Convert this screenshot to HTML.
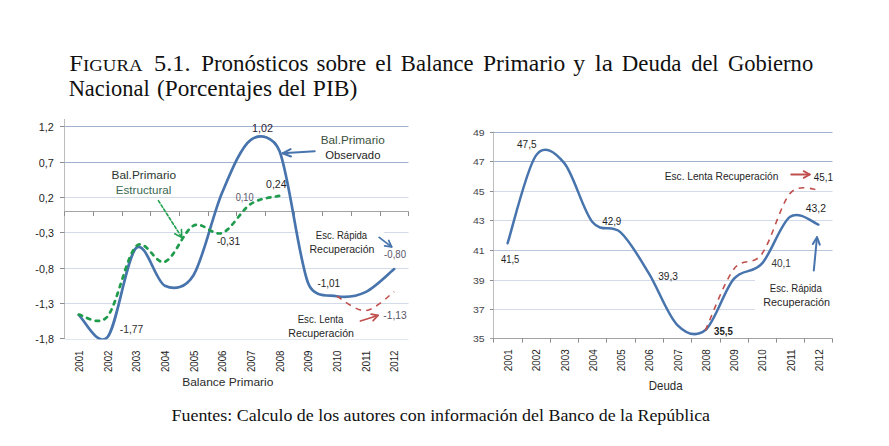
<!DOCTYPE html>
<html><head><meta charset="utf-8"><title>Figura 5.1</title>
<style>
html,body{margin:0;padding:0;background:#fff;}
body{width:889px;height:446px;overflow:hidden;}
svg{display:block;font-family:'Liberation Sans', Arial, sans-serif;}
</style></head><body>
<svg width="889" height="446" viewBox="0 0 889 446">
<rect width="889" height="446" fill="#fff"/>
<text x="69.38" y="70.90" font-size="23.00" fill="#111" textLength="73.06" lengthAdjust="spacingAndGlyphs" font-family="'Liberation Serif', 'Times New Roman', serif">F<tspan font-size="17.5">IGURA</tspan></text>
<text x="154.12" y="70.90" font-size="23.00" fill="#111" textLength="36.48" lengthAdjust="spacingAndGlyphs" font-family="'Liberation Serif', 'Times New Roman', serif">5.1.</text>
<text x="201.20" y="70.90" font-size="23.00" fill="#111" textLength="107.14" lengthAdjust="spacingAndGlyphs" font-family="'Liberation Serif', 'Times New Roman', serif">Pronósticos</text>
<text x="316.48" y="70.90" font-size="23.00" fill="#111" textLength="49.60" lengthAdjust="spacingAndGlyphs" font-family="'Liberation Serif', 'Times New Roman', serif">sobre</text>
<text x="375.38" y="70.90" font-size="23.00" fill="#111" textLength="16.78" lengthAdjust="spacingAndGlyphs" font-family="'Liberation Serif', 'Times New Roman', serif">el</text>
<text x="400.84" y="70.90" font-size="23.00" fill="#111" textLength="72.78" lengthAdjust="spacingAndGlyphs" font-family="'Liberation Serif', 'Times New Roman', serif">Balance</text>
<text x="483.02" y="70.90" font-size="23.00" fill="#111" textLength="82.32" lengthAdjust="spacingAndGlyphs" font-family="'Liberation Serif', 'Times New Roman', serif">Primario</text>
<text x="573.38" y="70.90" font-size="23.00" fill="#111" textLength="11.88" lengthAdjust="spacingAndGlyphs" font-family="'Liberation Serif', 'Times New Roman', serif">y</text>
<text x="594.66" y="70.90" font-size="23.00" fill="#111" textLength="18.24" lengthAdjust="spacingAndGlyphs" font-family="'Liberation Serif', 'Times New Roman', serif">la</text>
<text x="621.84" y="70.90" font-size="23.00" fill="#111" textLength="59.70" lengthAdjust="spacingAndGlyphs" font-family="'Liberation Serif', 'Times New Roman', serif">Deuda</text>
<text x="691.20" y="70.90" font-size="23.00" fill="#111" textLength="27.42" lengthAdjust="spacingAndGlyphs" font-family="'Liberation Serif', 'Times New Roman', serif">del</text>
<text x="728.02" y="70.90" font-size="23.00" fill="#111" textLength="85.14" lengthAdjust="spacingAndGlyphs" font-family="'Liberation Serif', 'Times New Roman', serif">Gobierno</text>
<text x="68.66" y="96.00" font-size="23.00" fill="#111" textLength="80.96" lengthAdjust="spacingAndGlyphs" font-family="'Liberation Serif', 'Times New Roman', serif">Nacional</text>
<text x="156.94" y="96.00" font-size="23.00" fill="#111" textLength="115.04" lengthAdjust="spacingAndGlyphs" font-family="'Liberation Serif', 'Times New Roman', serif">(Porcentajes</text>
<text x="278.30" y="96.00" font-size="23.00" fill="#111" textLength="27.68" lengthAdjust="spacingAndGlyphs" font-family="'Liberation Serif', 'Times New Roman', serif">del</text>
<text x="312.84" y="96.00" font-size="23.00" fill="#111" textLength="44.50" lengthAdjust="spacingAndGlyphs" font-family="'Liberation Serif', 'Times New Roman', serif">PIB)</text>
<text x="171.56" y="420.80" font-size="16.00" fill="#111" textLength="538.52" lengthAdjust="spacingAndGlyphs" font-family="'Liberation Serif', 'Times New Roman', serif">Fuentes: Calculo de los autores con información del Banco de la República</text>
<line x1="64.50" y1="126.50" x2="408.50" y2="126.50" stroke="#9fb1cf" stroke-width="1.00" />
<line x1="64.50" y1="162.50" x2="408.50" y2="162.50" stroke="#9fb1cf" stroke-width="1.00" />
<line x1="64.50" y1="197.50" x2="408.50" y2="197.50" stroke="#d3dbe8" stroke-width="1.00" />
<line x1="64.50" y1="232.50" x2="408.50" y2="232.50" stroke="#d3dbe8" stroke-width="1.00" />
<line x1="64.50" y1="268.50" x2="408.50" y2="268.50" stroke="#d3dbe8" stroke-width="1.00" />
<line x1="64.50" y1="303.50" x2="408.50" y2="303.50" stroke="#d3dbe8" stroke-width="1.00" />
<line x1="64.50" y1="339.50" x2="408.50" y2="339.50" stroke="#e3e8f0" stroke-width="1.00" />
<rect x="300.5" y="226" width="83.5" height="33" fill="#fff"/>
<line x1="64.50" y1="119.00" x2="64.50" y2="339.00" stroke="#bdbdbd" stroke-width="1.00" />
<line x1="60.00" y1="126.50" x2="64.50" y2="126.50" stroke="#8c8c8c" stroke-width="1.00" />
<line x1="60.00" y1="162.50" x2="64.50" y2="162.50" stroke="#8c8c8c" stroke-width="1.00" />
<line x1="60.00" y1="197.50" x2="64.50" y2="197.50" stroke="#8c8c8c" stroke-width="1.00" />
<line x1="60.00" y1="232.50" x2="64.50" y2="232.50" stroke="#8c8c8c" stroke-width="1.00" />
<line x1="60.00" y1="268.50" x2="64.50" y2="268.50" stroke="#8c8c8c" stroke-width="1.00" />
<line x1="60.00" y1="303.50" x2="64.50" y2="303.50" stroke="#8c8c8c" stroke-width="1.00" />
<line x1="60.00" y1="338.50" x2="64.50" y2="338.50" stroke="#8c8c8c" stroke-width="1.00" />
<line x1="64.50" y1="211.50" x2="408.50" y2="211.50" stroke="#a3a3a3" stroke-width="1.00" />
<line x1="64.50" y1="211.50" x2="64.50" y2="216.00" stroke="#8c8c8c" stroke-width="1.00" />
<line x1="93.50" y1="211.50" x2="93.50" y2="216.00" stroke="#8c8c8c" stroke-width="1.00" />
<line x1="122.50" y1="211.50" x2="122.50" y2="216.00" stroke="#8c8c8c" stroke-width="1.00" />
<line x1="150.50" y1="211.50" x2="150.50" y2="216.00" stroke="#8c8c8c" stroke-width="1.00" />
<line x1="179.50" y1="211.50" x2="179.50" y2="216.00" stroke="#8c8c8c" stroke-width="1.00" />
<line x1="208.50" y1="211.50" x2="208.50" y2="216.00" stroke="#8c8c8c" stroke-width="1.00" />
<line x1="236.50" y1="211.50" x2="236.50" y2="216.00" stroke="#8c8c8c" stroke-width="1.00" />
<line x1="265.50" y1="211.50" x2="265.50" y2="216.00" stroke="#8c8c8c" stroke-width="1.00" />
<line x1="294.50" y1="211.50" x2="294.50" y2="216.00" stroke="#8c8c8c" stroke-width="1.00" />
<line x1="322.50" y1="211.50" x2="322.50" y2="216.00" stroke="#8c8c8c" stroke-width="1.00" />
<line x1="351.50" y1="211.50" x2="351.50" y2="216.00" stroke="#8c8c8c" stroke-width="1.00" />
<line x1="380.50" y1="211.50" x2="380.50" y2="216.00" stroke="#8c8c8c" stroke-width="1.00" />
<line x1="408.50" y1="211.50" x2="408.50" y2="216.00" stroke="#8c8c8c" stroke-width="1.00" />
<text x="38.84" y="130.60" font-size="10.30" fill="#1e1e24" textLength="15.06" lengthAdjust="spacingAndGlyphs">1,2</text>
<text x="38.84" y="166.60" font-size="10.30" fill="#1e1e24" textLength="15.06" lengthAdjust="spacingAndGlyphs">0,7</text>
<text x="38.84" y="201.60" font-size="10.30" fill="#1e1e24" textLength="15.06" lengthAdjust="spacingAndGlyphs">0,2</text>
<text x="35.38" y="236.60" font-size="10.30" fill="#1e1e24" textLength="18.52" lengthAdjust="spacingAndGlyphs">-0,3</text>
<text x="35.38" y="272.60" font-size="10.30" fill="#1e1e24" textLength="18.52" lengthAdjust="spacingAndGlyphs">-0,8</text>
<text x="35.38" y="307.60" font-size="10.30" fill="#1e1e24" textLength="18.52" lengthAdjust="spacingAndGlyphs">-1,3</text>
<text x="35.38" y="342.70" font-size="10.30" fill="#1e1e24" textLength="18.52" lengthAdjust="spacingAndGlyphs">-1,8</text>
<text transform="translate(82.83,372.08) rotate(-90)" font-size="10.20" fill="#1e1e24" textLength="21.52" lengthAdjust="spacingAndGlyphs">2001</text>
<text transform="translate(111.50,372.08) rotate(-90)" font-size="10.20" fill="#1e1e24" textLength="21.52" lengthAdjust="spacingAndGlyphs">2002</text>
<text transform="translate(140.17,372.08) rotate(-90)" font-size="10.20" fill="#1e1e24" textLength="21.52" lengthAdjust="spacingAndGlyphs">2003</text>
<text transform="translate(168.83,372.08) rotate(-90)" font-size="10.20" fill="#1e1e24" textLength="21.52" lengthAdjust="spacingAndGlyphs">2004</text>
<text transform="translate(197.50,372.08) rotate(-90)" font-size="10.20" fill="#1e1e24" textLength="21.52" lengthAdjust="spacingAndGlyphs">2005</text>
<text transform="translate(226.17,372.08) rotate(-90)" font-size="10.20" fill="#1e1e24" textLength="21.52" lengthAdjust="spacingAndGlyphs">2006</text>
<text transform="translate(254.83,372.08) rotate(-90)" font-size="10.20" fill="#1e1e24" textLength="21.52" lengthAdjust="spacingAndGlyphs">2007</text>
<text transform="translate(283.50,372.08) rotate(-90)" font-size="10.20" fill="#1e1e24" textLength="21.52" lengthAdjust="spacingAndGlyphs">2008</text>
<text transform="translate(312.17,372.08) rotate(-90)" font-size="10.20" fill="#1e1e24" textLength="21.52" lengthAdjust="spacingAndGlyphs">2009</text>
<text transform="translate(340.83,372.08) rotate(-90)" font-size="10.20" fill="#1e1e24" textLength="21.52" lengthAdjust="spacingAndGlyphs">2010</text>
<text transform="translate(369.50,372.08) rotate(-90)" font-size="10.20" fill="#1e1e24" textLength="21.52" lengthAdjust="spacingAndGlyphs">2011</text>
<text transform="translate(398.17,372.08) rotate(-90)" font-size="10.20" fill="#1e1e24" textLength="21.52" lengthAdjust="spacingAndGlyphs">2012</text>
<text x="182.20" y="386.30" font-size="11.40" fill="#2a2a2a" textLength="91.24" lengthAdjust="spacingAndGlyphs">Balance Primario</text>
<clipPath id="cl"><rect x="64" y="119" width="345" height="220.6"/></clipPath>
<path clip-path="url(#cl)" d="M78.83,314.96 C83.61,318.66 97.94,348.32 107.50,337.16 C117.06,326.00 126.61,256.59 136.17,248.00 C145.72,239.42 155.28,281.14 164.83,285.67 C174.39,290.19 185.50,288.17 193.50,275.17 C203.06,259.65 212.61,215.09 222.17,192.54 C231.72,169.98 241.28,146.74 250.83,139.83 C260.39,132.93 273.78,136.81 279.50,151.11 C289.06,175.02 298.61,259.07 308.17,283.26 C313.95,297.89 327.28,294.76 336.83,296.24 C346.39,297.71 355.94,296.65 365.50,292.12 C375.06,287.59 389.39,272.91 394.17,269.07" fill="none" stroke="#4874ad" stroke-width="2.7" stroke-linejoin="round" stroke-linecap="round"/>
<path d="M336.83,296.24 C341.61,298.64 355.94,311.38 365.50,310.63 C375.06,309.89 389.39,294.91 394.17,291.77" fill="none" stroke="#c0504d" stroke-width="1.6" stroke-dasharray="5.7 5.4"/>
<path d="M78.83,314.61 C83.61,314.91 98.28,327.46 107.50,316.45 C117.06,305.04 126.61,255.26 136.17,246.16 C145.72,237.06 155.28,265.25 164.83,261.83 C174.39,258.42 183.94,230.47 193.50,225.66 C203.06,220.85 212.61,236.60 222.17,232.97 C231.72,229.34 241.28,210.08 250.83,203.88 C260.39,197.69 274.72,197.15 279.50,195.80" fill="none" stroke="#1f9b4c" stroke-width="2.7" stroke-dasharray="3.4 5.6" stroke-linecap="round"/>
<text x="111.48" y="178.80" font-size="10.20" fill="#2b3630" textLength="64.60" lengthAdjust="spacingAndGlyphs">Bal.Primario</text>
<text x="115.74" y="193.70" font-size="10.20" fill="#3a6a52" textLength="55.60" lengthAdjust="spacingAndGlyphs">Estructural</text>
<line x1="158.40" y1="200.60" x2="181.80" y2="237.50" stroke="#22a04f" stroke-width="1.60" stroke-linecap="round" stroke-dasharray="3 2"/>
<polyline points="174.73,233.77 181.80,237.50 181.44,229.51" fill="none" stroke="#22a04f" stroke-width="1.60" stroke-linecap="round" stroke-linejoin="round"/>
<text x="252.02" y="131.90" font-size="10.20" fill="#2a1c36" textLength="20.96" lengthAdjust="spacingAndGlyphs">1,02</text>
<text x="320.74" y="143.70" font-size="10.20" fill="#3b5040" textLength="63.98" lengthAdjust="spacingAndGlyphs">Bal.Primario</text>
<text x="325.20" y="159.20" font-size="10.20" fill="#1e1e24" textLength="55.24" lengthAdjust="spacingAndGlyphs">Observado</text>
<line x1="314.70" y1="151.30" x2="282.60" y2="153.30" stroke="#4874ad" stroke-width="2.00" stroke-linecap="round" />
<polyline points="290.57,149.13 282.60,153.30 291.03,156.45" fill="none" stroke="#4874ad" stroke-width="2.00" stroke-linecap="round" stroke-linejoin="round"/>
<text x="266.02" y="188.00" font-size="10.20" fill="#1e1e24" textLength="20.52" lengthAdjust="spacingAndGlyphs">0,24</text>
<text x="235.64" y="200.60" font-size="10.20" fill="#5a5468" textLength="18.00" lengthAdjust="spacingAndGlyphs">0,10</text>
<text x="216.92" y="244.60" font-size="10.20" fill="#1e1e24" textLength="23.34" lengthAdjust="spacingAndGlyphs">-0,31</text>
<text x="119.84" y="332.90" font-size="10.20" fill="#303030" textLength="23.52" lengthAdjust="spacingAndGlyphs">-1,77</text>
<text x="315.84" y="239.30" font-size="10.20" fill="#262626" textLength="51.34" lengthAdjust="spacingAndGlyphs">Esc. Rápida</text>
<text x="309.48" y="252.70" font-size="10.20" fill="#262626" textLength="64.96" lengthAdjust="spacingAndGlyphs">Recuperación</text>
<line x1="379.20" y1="237.40" x2="391.60" y2="246.90" stroke="#4874ad" stroke-width="1.80" stroke-linecap="round" />
<polyline points="384.68,245.83 391.60,246.90 388.76,240.50" fill="none" stroke="#4874ad" stroke-width="1.80" stroke-linecap="round" stroke-linejoin="round"/>
<text x="384.10" y="257.70" font-size="10.20" fill="#5a5468" textLength="21.90" lengthAdjust="spacingAndGlyphs">-0,80</text>
<text x="317.38" y="286.50" font-size="10.20" fill="#1e1e24" textLength="22.70" lengthAdjust="spacingAndGlyphs">-1,01</text>
<text x="297.66" y="322.80" font-size="10.20" fill="#262626" textLength="45.70" lengthAdjust="spacingAndGlyphs">Esc. Lenta</text>
<text x="288.38" y="336.70" font-size="10.20" fill="#262626" textLength="65.60" lengthAdjust="spacingAndGlyphs">Recuperación</text>
<line x1="360.40" y1="321.00" x2="378.00" y2="315.50" stroke="#c0504d" stroke-width="1.80" stroke-linecap="round" />
<polyline points="373.14,320.54 378.00,315.50 371.14,314.13" fill="none" stroke="#c0504d" stroke-width="1.80" stroke-linecap="round" stroke-linejoin="round"/>
<text x="383.38" y="319.10" font-size="10.20" fill="#5a5468" textLength="23.42" lengthAdjust="spacingAndGlyphs">-1,13</text>
<line x1="493.50" y1="132.50" x2="832.50" y2="132.50" stroke="#9fb1cf" stroke-width="1.00" />
<line x1="493.50" y1="161.50" x2="832.50" y2="161.50" stroke="#9fb1cf" stroke-width="1.00" />
<line x1="493.50" y1="191.50" x2="832.50" y2="191.50" stroke="#d3dbe8" stroke-width="1.00" />
<line x1="493.50" y1="220.50" x2="832.50" y2="220.50" stroke="#d3dbe8" stroke-width="1.00" />
<line x1="493.50" y1="250.50" x2="832.50" y2="250.50" stroke="#b9c6dc" stroke-width="1.00" />
<line x1="493.50" y1="280.50" x2="832.50" y2="280.50" stroke="#d3dbe8" stroke-width="1.00" />
<line x1="493.50" y1="309.50" x2="832.50" y2="309.50" stroke="#d3dbe8" stroke-width="1.00" />
<rect x="755" y="274" width="80" height="40" fill="#fff"/>
<line x1="493.50" y1="131.50" x2="493.50" y2="338.50" stroke="#bdbdbd" stroke-width="1.00" />
<line x1="490.00" y1="132.50" x2="493.50" y2="132.50" stroke="#8c8c8c" stroke-width="1.00" />
<line x1="490.00" y1="161.50" x2="493.50" y2="161.50" stroke="#8c8c8c" stroke-width="1.00" />
<line x1="490.00" y1="191.50" x2="493.50" y2="191.50" stroke="#8c8c8c" stroke-width="1.00" />
<line x1="490.00" y1="220.50" x2="493.50" y2="220.50" stroke="#8c8c8c" stroke-width="1.00" />
<line x1="490.00" y1="250.50" x2="493.50" y2="250.50" stroke="#8c8c8c" stroke-width="1.00" />
<line x1="490.00" y1="280.50" x2="493.50" y2="280.50" stroke="#8c8c8c" stroke-width="1.00" />
<line x1="490.00" y1="309.50" x2="493.50" y2="309.50" stroke="#8c8c8c" stroke-width="1.00" />
<line x1="490.00" y1="338.50" x2="832.50" y2="338.50" stroke="#a3a3a3" stroke-width="1.00" />
<line x1="493.50" y1="338.50" x2="493.50" y2="342.60" stroke="#8c8c8c" stroke-width="1.00" />
<line x1="522.50" y1="338.50" x2="522.50" y2="342.60" stroke="#8c8c8c" stroke-width="1.00" />
<line x1="550.50" y1="338.50" x2="550.50" y2="342.60" stroke="#8c8c8c" stroke-width="1.00" />
<line x1="578.50" y1="338.50" x2="578.50" y2="342.60" stroke="#8c8c8c" stroke-width="1.00" />
<line x1="606.50" y1="338.50" x2="606.50" y2="342.60" stroke="#8c8c8c" stroke-width="1.00" />
<line x1="635.50" y1="338.50" x2="635.50" y2="342.60" stroke="#8c8c8c" stroke-width="1.00" />
<line x1="663.50" y1="338.50" x2="663.50" y2="342.60" stroke="#8c8c8c" stroke-width="1.00" />
<line x1="691.50" y1="338.50" x2="691.50" y2="342.60" stroke="#8c8c8c" stroke-width="1.00" />
<line x1="720.50" y1="338.50" x2="720.50" y2="342.60" stroke="#8c8c8c" stroke-width="1.00" />
<line x1="748.50" y1="338.50" x2="748.50" y2="342.60" stroke="#8c8c8c" stroke-width="1.00" />
<line x1="776.50" y1="338.50" x2="776.50" y2="342.60" stroke="#8c8c8c" stroke-width="1.00" />
<line x1="804.50" y1="338.50" x2="804.50" y2="342.60" stroke="#8c8c8c" stroke-width="1.00" />
<line x1="832.50" y1="338.50" x2="832.50" y2="342.60" stroke="#8c8c8c" stroke-width="1.00" />
<text x="472.92" y="135.70" font-size="8.80" fill="#45454c" textLength="11.70" lengthAdjust="spacingAndGlyphs">49</text>
<text x="472.92" y="164.70" font-size="8.80" fill="#45454c" textLength="11.70" lengthAdjust="spacingAndGlyphs">47</text>
<text x="472.92" y="194.70" font-size="8.80" fill="#45454c" textLength="11.70" lengthAdjust="spacingAndGlyphs">45</text>
<text x="472.92" y="223.70" font-size="8.80" fill="#45454c" textLength="11.70" lengthAdjust="spacingAndGlyphs">43</text>
<text x="472.92" y="253.70" font-size="8.80" fill="#45454c" textLength="11.70" lengthAdjust="spacingAndGlyphs">41</text>
<text x="472.92" y="283.70" font-size="8.80" fill="#45454c" textLength="11.70" lengthAdjust="spacingAndGlyphs">39</text>
<text x="472.92" y="312.70" font-size="8.80" fill="#45454c" textLength="11.70" lengthAdjust="spacingAndGlyphs">37</text>
<text x="472.92" y="341.70" font-size="8.80" fill="#45454c" textLength="11.70" lengthAdjust="spacingAndGlyphs">35</text>
<text transform="translate(512.23,371.26) rotate(-90)" font-size="10.20" fill="#1e1e24" textLength="22.06" lengthAdjust="spacingAndGlyphs">2001</text>
<text transform="translate(540.48,371.26) rotate(-90)" font-size="10.20" fill="#1e1e24" textLength="22.06" lengthAdjust="spacingAndGlyphs">2002</text>
<text transform="translate(568.73,371.26) rotate(-90)" font-size="10.20" fill="#1e1e24" textLength="22.06" lengthAdjust="spacingAndGlyphs">2003</text>
<text transform="translate(596.98,371.26) rotate(-90)" font-size="10.20" fill="#1e1e24" textLength="22.06" lengthAdjust="spacingAndGlyphs">2004</text>
<text transform="translate(625.23,371.26) rotate(-90)" font-size="10.20" fill="#1e1e24" textLength="22.06" lengthAdjust="spacingAndGlyphs">2005</text>
<text transform="translate(653.48,371.26) rotate(-90)" font-size="10.20" fill="#1e1e24" textLength="22.06" lengthAdjust="spacingAndGlyphs">2006</text>
<text transform="translate(681.73,371.26) rotate(-90)" font-size="10.20" fill="#1e1e24" textLength="22.06" lengthAdjust="spacingAndGlyphs">2007</text>
<text transform="translate(709.98,371.26) rotate(-90)" font-size="10.20" fill="#1e1e24" textLength="22.06" lengthAdjust="spacingAndGlyphs">2008</text>
<text transform="translate(738.23,371.26) rotate(-90)" font-size="10.20" fill="#1e1e24" textLength="22.06" lengthAdjust="spacingAndGlyphs">2009</text>
<text transform="translate(766.48,371.26) rotate(-90)" font-size="10.20" fill="#1e1e24" textLength="22.06" lengthAdjust="spacingAndGlyphs">2010</text>
<text transform="translate(794.73,371.26) rotate(-90)" font-size="10.20" fill="#1e1e24" textLength="22.06" lengthAdjust="spacingAndGlyphs">2011</text>
<text transform="translate(822.98,371.26) rotate(-90)" font-size="10.20" fill="#1e1e24" textLength="22.06" lengthAdjust="spacingAndGlyphs">2012</text>
<text x="648.84" y="389.90" font-size="12.40" fill="#2a2a2a" textLength="33.80" lengthAdjust="spacingAndGlyphs">Deuda</text>
<path d="M507.62,243.19 C512.33,228.59 526.46,169.01 535.88,155.63 C544.27,143.70 554.71,151.85 564.12,162.91 C573.54,173.97 582.96,210.42 592.38,221.99 C601.79,233.56 611.21,223.78 620.62,232.35 C630.04,240.93 639.46,258.05 648.88,273.45 C658.29,288.85 667.71,315.32 677.12,324.76 C686.54,334.20 695.96,337.70 705.38,330.09 C714.79,322.49 724.21,290.20 733.62,279.14 C743.04,268.07 752.46,274.11 761.88,263.70 C771.29,253.30 780.71,223.20 790.12,216.68 C799.54,210.16 813.67,223.27 818.38,224.58" fill="none" stroke="#4874ad" stroke-width="2.5" stroke-linejoin="round" stroke-linecap="round"/>
<path d="M705.38,330.30 C710.08,320.15 724.21,282.13 733.62,269.41 C743.04,256.68 752.46,266.62 761.88,253.95 C771.29,241.27 780.71,204.06 790.12,193.38 C799.54,182.70 813.67,190.43 818.38,189.84" fill="none" stroke="#c0504d" stroke-width="1.6" stroke-dasharray="5.7 5.4"/>
<text x="517.00" y="148.40" font-size="10.00" fill="#1e1e24" textLength="19.54" lengthAdjust="spacingAndGlyphs">47,5</text>
<text x="501.00" y="262.60" font-size="10.00" fill="#1e1e24" textLength="18.36" lengthAdjust="spacingAndGlyphs">41,5</text>
<text x="602.18" y="224.80" font-size="10.00" fill="#1e1e24" textLength="19.18" lengthAdjust="spacingAndGlyphs">42,9</text>
<text x="658.20" y="279.80" font-size="10.00" fill="#1e1e24" textLength="19.70" lengthAdjust="spacingAndGlyphs">39,3</text>
<text x="714.02" y="334.50" font-size="10.00" fill="#1e1e24" textLength="18.80" lengthAdjust="spacingAndGlyphs" font-weight="bold">35,5</text>
<text x="771.46" y="266.80" font-size="10.00" fill="#3a3a3a" textLength="19.44" lengthAdjust="spacingAndGlyphs">40,1</text>
<text x="805.82" y="211.60" font-size="10.00" fill="#1e1e24" textLength="20.16" lengthAdjust="spacingAndGlyphs">43,2</text>
<text x="813.74" y="180.80" font-size="10.00" fill="#1e1e24" textLength="19.24" lengthAdjust="spacingAndGlyphs">45,1</text>
<text x="664.66" y="180.20" font-size="10.00" fill="#262626" textLength="113.78" lengthAdjust="spacingAndGlyphs">Esc. Lenta Recuperación</text>
<line x1="791.20" y1="174.50" x2="809.80" y2="174.50" stroke="#c0504d" stroke-width="1.80" stroke-linecap="round" />
<polyline points="803.66,177.86 809.80,174.50 803.66,171.14" fill="none" stroke="#c0504d" stroke-width="1.80" stroke-linecap="round" stroke-linejoin="round"/>
<text x="769.84" y="291.90" font-size="10.00" fill="#262626" textLength="51.98" lengthAdjust="spacingAndGlyphs">Esc. Rápida</text>
<text x="763.30" y="305.70" font-size="10.00" fill="#262626" textLength="66.68" lengthAdjust="spacingAndGlyphs">Recuperación</text>
<line x1="813.80" y1="270.40" x2="817.00" y2="237.20" stroke="#4874ad" stroke-width="2.00" stroke-linecap="round" />
<polyline points="819.77,244.70 817.00,237.20 812.85,244.04" fill="none" stroke="#4874ad" stroke-width="2.00" stroke-linecap="round" stroke-linejoin="round"/>
</svg>
</body></html>
